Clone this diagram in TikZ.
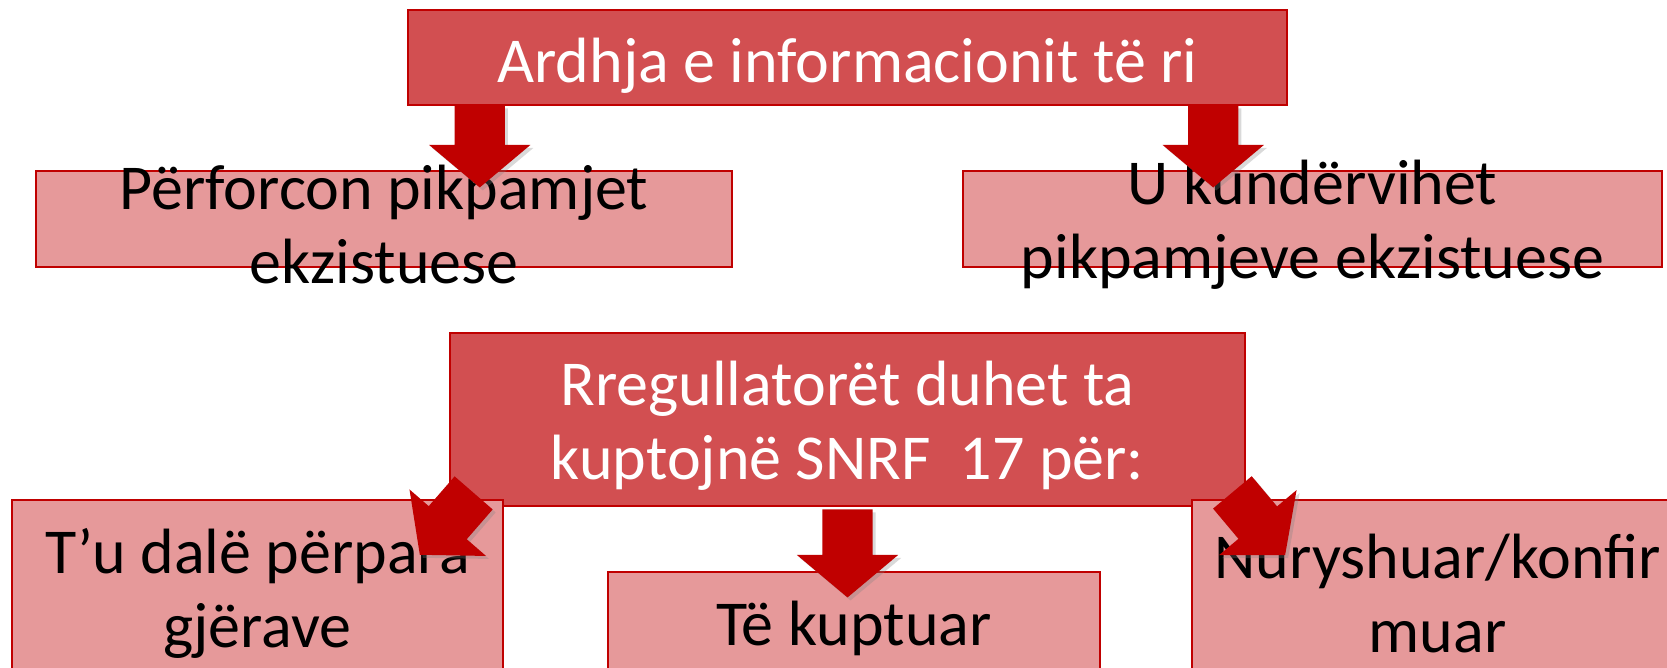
\documentclass[tikz,border=0pt]{standalone}
\usepackage{fontspec}
\setmainfont{Carlito}
\usetikzlibrary{positioning, calc, shapes.arrows, shadows}
\definecolor{boxred}{HTML}{D24F51}
\definecolor{lightred}{HTML}{E6999A}
\definecolor{edgered}{HTML}{C00000}
\newcommand{\bigfont}{\fontsize{64}{74}\selectfont}

\begin{document}
\begin{tikzpicture}[x=1pt, y=-1pt,
  darkbox/.style={draw=edgered, fill=boxred, line width=2.5pt, inner sep=0pt},
  lightbox/.style={draw=edgered, fill=lightred, line width=2.5pt, inner sep=0pt},
  boxtext/.style={font=\bigfont, align=center, inner sep=0pt, yshift=-6pt},
  blockarrow/.style={single arrow, fill=edgered, draw=none, inner xsep=0pt, inner ysep=25pt, minimum height=82pt, single arrow head extend=25.5pt, single arrow tip angle=100, anchor=tail, drop shadow={opacity=0.3, shadow xshift=3pt, shadow yshift=-3pt}},
]
\useasboundingbox (0,0) rectangle (1667,668);
\clip (0,0) rectangle (1667,668);

% Boxes
\node[darkbox, minimum width=879pt, minimum height=95pt] (info) at (847.5,57.5) {};
\node[lightbox, minimum width=696pt, minimum height=96pt] (confirm) at (384,219) {};
\node[lightbox, minimum width=699pt, minimum height=96pt] (oppose) at (1312.5,219) {};
\node[darkbox, minimum width=795pt, minimum height=173pt] (regul) at (847.5,419.5) {};
\node[lightbox, minimum width=491pt, minimum height=175pt] (ahead) at (257.5,587.5) {};
\node[lightbox, minimum width=492pt, minimum height=175pt] (understand) at (854,659.5) {};
\node[lightbox, minimum width=491pt, minimum height=175pt] (resolve) at (1437.5,587.5) {};

% Texts
\node[boxtext, text=white, yshift=-2pt] (infotext) at (info) {Ardhja e informacionit të ri};
\node[boxtext] (confirmtext) at (confirm) {Përforcon pikpamjet\\ekzistuese};
\node[boxtext] (opposetext) at (oppose) {U kundërvihet\\pikpamjeve ekzistuese};
\node[boxtext, text=white] (regultext) at (regul) {Rregullatorët duhet ta\\kuptojnë SNRF~~17 për:};
\node[boxtext] (aheadtext) at (ahead) {T’u dalë përpara\\gjërave};
\node[boxtext, anchor=base] (understandtext) at (854,639) {Të kuptuar};
\node[boxtext] (resolvetext) at (resolve) {Nuryshuar/konfir\\muar};

% Arrows
\node[blockarrow, rotate=-90] (arrowL) at ($(info.south west)+(73,-1)$) {};
\node[blockarrow, rotate=-90] (arrowR) at ($(info.south east)+(-75,-1)$) {};
\node[blockarrow, rotate=-90, minimum height=88pt] (arrowM) at ($(regul.south)+(0,2)$) {};
\node[blockarrow, rotate=-131] (arrowBL) at ($(regul.south west)+(25,-14.5)$) {};
\node[blockarrow, rotate=-50] (arrowBR) at ($(regul.south east)+(-14,-15)$) {};

\end{tikzpicture}
\end{document}
